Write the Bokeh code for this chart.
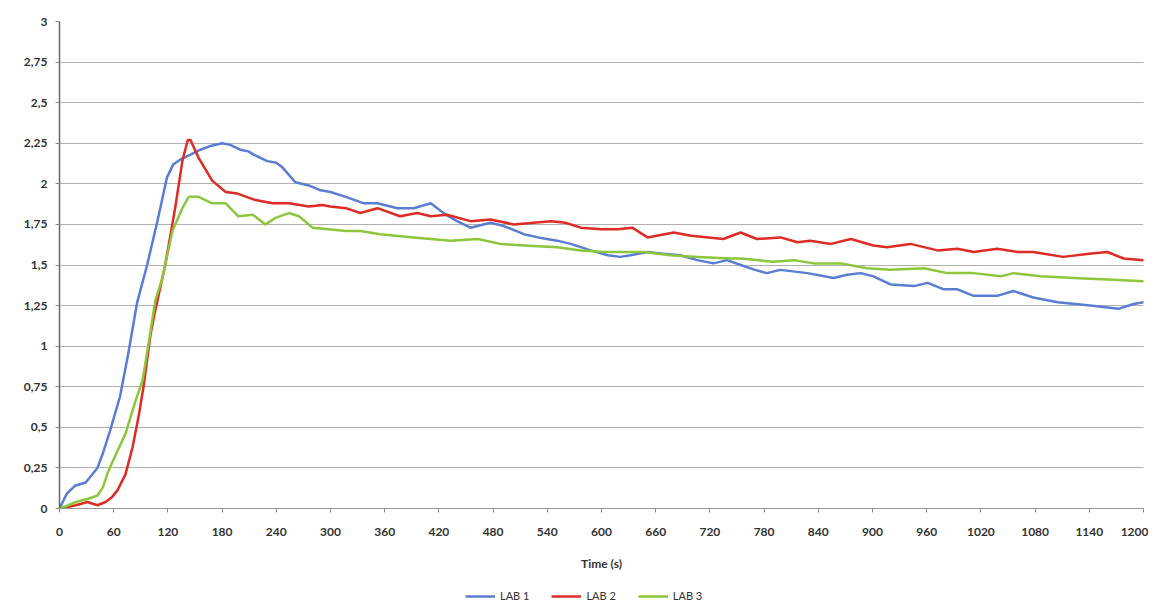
from bokeh.plotting import figure
from bokeh.layouts import column
from bokeh.models import FixedTicker, CustomJSTickFormatter, Legend, LegendItem, Range1d
from bokeh.embed import file_html
from bokeh.resources import INLINE

# LAB 1
t1 = [0, 8, 17, 29, 42, 48, 56, 67, 76, 86, 97, 108, 119, 126, 134, 145, 156, 168, 180, 189,
      200, 209, 215, 230, 240, 247, 261, 276, 289, 300, 317, 337, 352, 374, 392, 411, 425, 440, 455, 477,
      492, 514, 530, 551, 566, 588, 607, 621, 632, 651, 668, 687, 706, 724, 739, 754, 770, 783, 798, 828,
      857, 872, 887, 901, 920, 946, 961, 979, 994, 1012, 1038, 1056, 1078, 1105, 1141, 1172, 1189, 1200]
v1 = [0, 0.09, 0.14, 0.16, 0.25, 0.34, 0.48, 0.69, 0.95, 1.27, 1.50, 1.76, 2.04, 2.12, 2.15, 2.18, 2.21, 2.235, 2.25, 2.24,
      2.21, 2.20, 2.18, 2.14, 2.13, 2.10, 2.01, 1.99, 1.96, 1.95, 1.92, 1.88, 1.88, 1.85, 1.85, 1.88, 1.82, 1.77, 1.73, 1.76,
      1.74, 1.69, 1.67, 1.65, 1.63, 1.59, 1.56, 1.55, 1.56, 1.58, 1.57, 1.56, 1.53, 1.51, 1.53, 1.50, 1.47, 1.45, 1.47, 1.45,
      1.42, 1.44, 1.45, 1.43, 1.38, 1.37, 1.39, 1.35, 1.35, 1.31, 1.31, 1.34, 1.30, 1.27, 1.25, 1.23, 1.26, 1.27]

# LAB 2
t2 = [0, 10, 18, 31, 42, 51, 58, 64, 73, 81, 88, 93, 101, 106, 117, 128, 136, 142, 145, 154,
      169, 184, 197, 217, 236, 254, 276, 291, 300, 317, 333, 352, 377, 396, 411, 429, 455, 477, 503, 525,
      544, 560, 577, 600, 618, 634, 651, 680, 699, 735, 754, 772, 798, 817, 831, 854, 876, 901, 916, 942,
      972, 994, 1012, 1038, 1061, 1078, 1111, 1140, 1160, 1178, 1200]
v2 = [0, 0.01, 0.02, 0.04, 0.02, 0.04, 0.07, 0.11, 0.21, 0.38, 0.58, 0.75, 1.08, 1.22, 1.50, 1.85, 2.14, 2.27, 2.27, 2.16,
      2.02, 1.95, 1.94, 1.90, 1.88, 1.88, 1.86, 1.87, 1.86, 1.85, 1.82, 1.85, 1.80, 1.82, 1.80, 1.81, 1.77, 1.78, 1.75, 1.76,
      1.77, 1.76, 1.73, 1.72, 1.72, 1.73, 1.67, 1.70, 1.68, 1.66, 1.70, 1.66, 1.67, 1.64, 1.65, 1.63, 1.66, 1.62, 1.61, 1.63,
      1.59, 1.60, 1.58, 1.60, 1.58, 1.58, 1.55, 1.57, 1.58, 1.54, 1.53]

# LAB 3
t3 = [0, 10, 18, 32, 42, 48, 54, 63, 73, 84, 92, 99, 106, 114, 125, 136, 143, 154, 169, 184,
      198, 214, 228, 239, 254, 265, 280, 298, 317, 333, 355, 392, 433, 463, 488, 514, 551, 577, 602, 618,
      647, 676, 706, 743, 754, 790, 813, 835, 865, 894, 920, 957, 983, 1012, 1042, 1056, 1086, 1123, 1160, 1200]
v3 = [0, 0.02, 0.04, 0.06, 0.08, 0.13, 0.23, 0.34, 0.46, 0.66, 0.79, 1.03, 1.28, 1.42, 1.71, 1.85, 1.92, 1.92, 1.88, 1.88,
      1.80, 1.81, 1.75, 1.79, 1.82, 1.80, 1.73, 1.72, 1.71, 1.71, 1.69, 1.67, 1.65, 1.66, 1.63, 1.62, 1.61, 1.59, 1.58, 1.58,
      1.58, 1.56, 1.55, 1.54, 1.54, 1.52, 1.53, 1.51, 1.51, 1.48, 1.47, 1.48, 1.45, 1.45, 1.43, 1.45, 1.43, 1.42, 1.41, 1.40]

series_names = ["LAB 1", "LAB 2", "LAB 3"]
colors = ["#5a7dd4", "#de2c24", "#8cc63c"]
x_ticks = list(range(0, 1201, 60))
y_ticks = [0, 0.25, 0.5, 0.75, 1, 1.25, 1.5, 1.75, 2, 2.25, 2.5, 2.75, 3]
x_label = "Time (s)"

FONT = "Lato"

p = figure(width=1148, height=578, output_backend="svg", toolbar_location=None,
           x_range=Range1d(0, 1200), y_range=Range1d(0, 3),
           min_border_left=59, min_border_right=5, min_border_top=21, min_border_bottom=70)
p.outline_line_color = None
p.background_fill_color = "white"

renderers = []
for t, v, c in zip([t1, t2, t3], [v1, v2, v3], colors):
    r = p.line(t, v, line_color=c, line_width=2.5, line_join="round", line_cap="round")
    renderers.append(r)

p.xgrid.visible = False
p.ygrid.ticker = FixedTicker(ticks=y_ticks)
p.ygrid.grid_line_color = "#b0b0b0"
p.ygrid.grid_line_width = 1

p.xaxis.ticker = FixedTicker(ticks=x_ticks)
p.yaxis.ticker = FixedTicker(ticks=y_ticks)
p.yaxis.formatter = CustomJSTickFormatter(code="return tick.toString().replace('.', ',');")
for ax in (p.xaxis, p.yaxis):
    ax.major_label_text_font = FONT
    ax.major_label_text_font_size = "12px"
    ax.major_label_text_font_style = "bold"
    ax.major_label_text_color = "#333333"
    ax.minor_tick_line_color = None
    ax.major_tick_in = 0
    ax.major_tick_out = 4
    ax.major_tick_line_color = "#888888"
p.yaxis.axis_line_color = "#666666"
p.yaxis.axis_line_width = 1.5
p.xaxis.axis_line_color = "#999999"
p.yaxis.major_label_standoff = 8
p.xaxis.major_label_standoff = 15
p.xaxis.axis_label = x_label
p.xaxis.axis_label_text_font = FONT
p.xaxis.axis_label_text_font_size = "12px"
p.xaxis.axis_label_text_font_style = "bold"
p.xaxis.axis_label_text_color = "#333333"
p.xaxis.axis_label_standoff = 17

# legend in a small companion figure below the chart
lf = figure(width=1148, height=26, output_backend="svg", toolbar_location=None,
            x_range=Range1d(0, 1), y_range=Range1d(0, 1), min_border=0)
lf.outline_line_color = None
lf.xaxis.visible = False
lf.yaxis.visible = False
lf.grid.visible = False
lrs = []
for c in colors:
    # off-range points: only the legend swatch is visible
    lrs.append(lf.line([-2, -1], [-2, -1], line_color=c, line_width=2.5))
legend = Legend(items=[LegendItem(label=n, renderers=[r]) for n, r in zip(series_names, lrs)],
                orientation="horizontal", location=(406, 2),
                border_line_color=None, background_fill_alpha=0,
                label_text_font=FONT, label_text_font_size="11px", label_text_color="#333333",
                glyph_width=30, glyph_height=12, spacing=22, padding=2, margin=0,
                label_standoff=5)
lf.add_layout(legend, "center")

layout = column(p, lf, spacing=0)
open("out.html", "w").write(file_html(layout, INLINE))
